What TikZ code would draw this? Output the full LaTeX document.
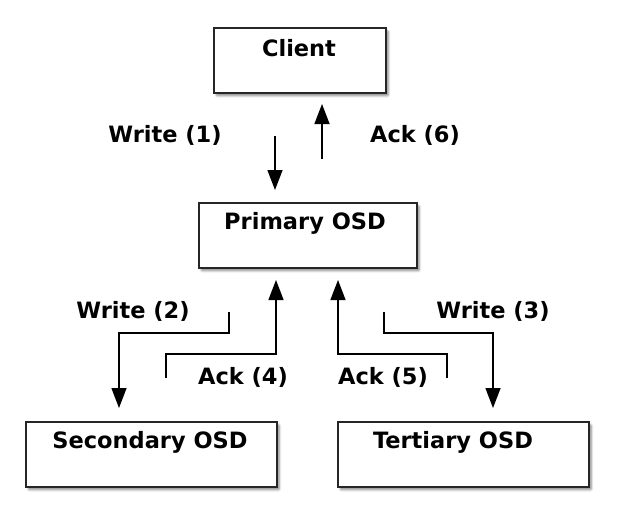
\documentclass[tikz,border=0pt]{standalone}
\usepackage{fontspec}
\setmainfont{DejaVu Sans}
\usetikzlibrary{arrows.meta,shadows.blur}
\begin{document}
\begin{tikzpicture}[x=1pt,y=-1pt,
  osdbox/.style={draw=black!85, line width=1.7pt, fill=white, minimum width=#1, minimum height=65pt, inner sep=0pt,
    blur shadow={shadow xshift=2.5pt, shadow yshift=-3pt, shadow blur steps=6, shadow blur extra rounding=1pt, shadow opacity=45}},
  boxtext/.style={font=\fontsize{22.5}{26}\selectfont\bfseries, inner sep=0pt},
  lbl/.style={font=\fontsize{22.5}{26}\selectfont\bfseries, inner sep=0pt},
  conn/.style={line width=1.4pt, -{Triangle[length=20pt,width=15pt]}}]
\useasboundingbox (0,0) rectangle (621,530);
% boxes
\node[osdbox=172pt, anchor=north west] (client) at (213,27) {};
\node[osdbox=218pt, anchor=north west] (primary) at (198,202) {};
\node[osdbox=251pt, anchor=north west] (secondary) at (25,421) {};
\node[osdbox=251pt, anchor=north west] (tertiary) at (337,421) {};
% box texts
\node[boxtext] (tclient) at (299,48) {Client};
\node[boxtext] (tprimary) at (305,223) {Primary OSD};
\node[boxtext] (tsecondary) at (150,442) {Secondary OSD};
\node[boxtext] (ttertiary) at (453,442) {Tertiary OSD};
% labels
\node[lbl] (lw1) at (165,135) {Write (1)};
\node[lbl] (la6) at (415,135) {Ack (6)};
\node[lbl] (lw2) at (133,311) {Write (2)};
\node[lbl] (la4) at (243,377) {Ack (4)};
\node[lbl] (lw3) at (493,311) {Write (3)};
\node[lbl] (la5) at (383,377) {Ack (5)};
% connector end points
\coordinate (w1s) at (275,136);
\coordinate (w1e) at (275,190);
\coordinate (a6s) at (322,159);
\coordinate (a6e) at (322,104);
\coordinate (w2s) at (229,312);
\coordinate (w2e) at (119,408);
\coordinate (a4s) at (166,378);
\coordinate (a4e) at (276,280);
\coordinate (w3s) at (384,312);
\coordinate (w3e) at (493,408);
\coordinate (a5s) at (447,378);
\coordinate (a5e) at (338,280);
% connectors
\draw[conn] (w1s) -- (w1e);
\draw[conn] (a6s) -- (a6e);
\draw[conn] (w2s) -- (229,333) -- (119,333) -- (w2e);
\draw[conn] (a4s) -- (166,354) -- (276,354) -- (a4e);
\draw[conn] (w3s) -- (384,333) -- (493,333) -- (w3e);
\draw[conn] (a5s) -- (447,354) -- (338,354) -- (a5e);
\end{tikzpicture}
\end{document}
